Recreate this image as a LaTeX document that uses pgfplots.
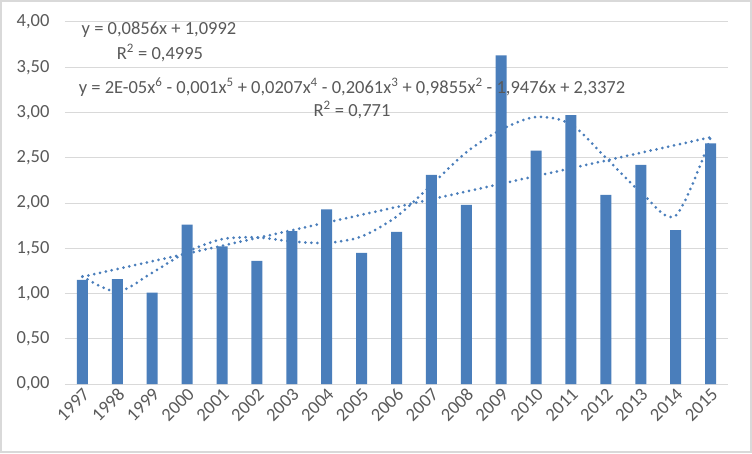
\documentclass[border=0pt]{standalone}
\usepackage{fontspec}
\setmainfont{Carlito}
\usepackage{pgfplots}
\pgfplotsset{compat=1.18}
\definecolor{barblue}{HTML}{4A7EBB}
\definecolor{txtgray}{HTML}{595959}
\definecolor{gridgray}{HTML}{D9D9D9}
\begin{document}
\fontsize{19}{22}\selectfont
\begin{tikzpicture}
\useasboundingbox (-65pt,-69pt) rectangle (687pt,384pt);
\draw[gridgray, line width=1.2pt] (-64pt,-68pt) rectangle (686pt,383pt);
\begin{axis}[
    at={(0pt,0pt)}, anchor=south west,
    scale only axis,
    width=663pt, height=362pt,
    xmin=-0.5, xmax=18.5,
    ymin=0, ymax=4,
    ytick={0,0.5,1,1.5,2,2.5,3,3.5,4},
    xtick={0,...,18},
    xticklabels={1997,1998,1999,2000,2001,2002,2003,2004,2005,2006,2007,2008,2009,2010,2011,2012,2013,2014,2015},
    ymajorgrids,
    grid style={gridgray, line width=1pt},
    axis x line*=bottom, axis y line*=left,
    x axis line style={gridgray, line width=1pt, -},
    y axis line style={draw=none},
    major tick length=0pt,
    ticklabel style={text=txtgray, font=\fontsize{18.5}{21}\selectfont},
    yticklabel style={xshift=-9pt},
    xticklabel style={rotate=45, anchor=east, xshift=4pt, yshift=-8pt},
    /pgf/number format/.cd, fixed, fixed zerofill, precision=2, use comma, assume math mode=true,
]
% bars
\addplot[ybar, bar width=11pt, fill=barblue, draw=none] coordinates {
    (0,1.15) (1,1.16) (2,1.01) (3,1.76) (4,1.52) (5,1.36) (6,1.69)
    (7,1.93) (8,1.45) (9,1.68) (10,2.31) (11,1.98) (12,3.63) (13,2.58)
    (14,2.97) (15,2.09) (16,2.42) (17,1.70) (18,2.66)
};
% linear trend
\addplot[barblue, line width=3pt, dash pattern=on 0pt off 6pt, line cap=round] coordinates {
    (0,1.185) (18,2.726)
};
% polynomial trend (6th order)
\addplot[barblue, line width=3pt, dash pattern=on 0pt off 6pt, line cap=round, smooth] coordinates {
    (0,1.19) (1,1.02) (2,1.23) (3,1.46) (4,1.60) (5,1.62) (6,1.575)
    (7,1.56) (8,1.63) (9,1.85) (10,2.20) (11,2.56) (12,2.81) (13,2.95)
    (14,2.87) (15,2.50) (16,2.12) (17,1.86) (18,2.72)
};
\end{axis}
\begin{scope}[every node/.style={text=txtgray, font=\fontsize{18.5}{21}\selectfont}]
\node at (94pt,354pt) {y = 0,0856x + 1,0992};
\node at (95pt,331pt) {R\textsuperscript{2} = 0,4995};
\node at (287pt,297pt) {y = 2E-05x\textsuperscript{6} - 0,001x\textsuperscript{5} + 0,0207x\textsuperscript{4} - 0,2061x\textsuperscript{3} + 0,9855x\textsuperscript{2} - 1,9476x + 2,3372};
\node at (287pt,274pt) {R\textsuperscript{2} = 0,771};
\end{scope}
\end{tikzpicture}
\end{document}
